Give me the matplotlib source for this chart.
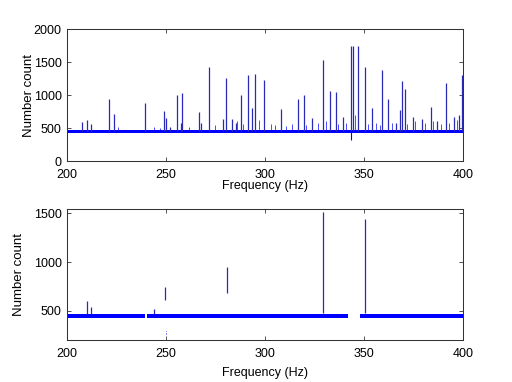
import matplotlib
matplotlib.use('Agg')
import matplotlib.pyplot as plt

plt.rcParams['font.family'] = ['Liberation Sans', 'DejaVu Sans']
plt.rcParams['font.size'] = 9

# --- top panel: baseline band and spectral peaks ---
top_base_start = [200]
top_base_end = [400]
top_base_low = [430]
top_base_high = [478]

top_peak_freq = [207.9, 210.1, 212.1, 221.5, 223.9, 239.4, 249.3, 250.0, 252.0,
                 255.9, 257.7, 258.4, 266.7, 268.0, 271.9, 278.8, 280.5, 283.5,
                 285.5, 287.9, 291.6, 293.8, 295.3, 299.7, 308.2, 316.6, 319.8,
                 324.0, 329.4, 332.8, 335.8, 339.5, 343.4, 344.5, 347.1, 350.5,
                 354.4, 359.4, 362.1, 366.1, 368.1, 369.1, 370.6, 374.8, 379.2,
                 383.7, 387.1, 391.4, 395.3, 398.0, 399.7]
top_peak_top = [591, 620, 555, 940, 707, 884, 763, 650, 520,
                1000, 575, 1025, 737, 570, 1430, 640, 1262, 630,
                570, 1000, 1308, 800, 1318, 1237, 793, 934, 1000,
                646, 1530, 1066, 1045, 670, 1747, 1747, 1747, 1430,
                800, 1388, 934, 570, 780, 1212, 1096, 670, 640,
                813, 611, 1187, 670, 697, 1303]

# small spikes just above the baseline
small_freq = [226, 244, 247, 262, 275, 286, 289, 297, 303, 305, 311, 314, 321,
              327, 331, 337, 341, 345.5, 352, 356, 358, 364, 372, 376, 381,
              385, 389, 393, 397]
small_top = [510, 515, 505, 520, 545, 600, 560, 620, 560, 540, 530, 560, 545,
             570, 600, 560, 580, 700, 560, 570, 550, 580, 560, 600, 580,
             600, 560, 580, 620]

dip_freq = [343.6]
dip_low = [318]

# --- bottom panel ---
bot_base_start = [200, 240.8, 348.0]
bot_base_end = [239.6, 342.0, 400]
bot_base_low = [422, 422, 422]
bot_base_high = [462, 462, 466]

bot_peak_freq = [210.1, 212.3, 244.1, 249.5, 280.8, 329.4, 350.5]
bot_peak_low = [460, 460, 460, 610, 678, 470, 470]
bot_peak_top = [603, 534, 517, 747, 949, 1517, 1438]
bot_dot_freq = [250.2]
bot_dot_low = [255]
bot_dot_high = [290]

base_color = '#0000ff'
peak_color = '#2a2ab8'
spine_color = '#333333'

fig = plt.figure(figsize=(5.12, 3.82), dpi=100)
ax1 = fig.add_axes([0.130, 0.5785, 0.774, 0.345])
ax2 = fig.add_axes([0.130, 0.1107, 0.774, 0.342])

for s, e, lo, hi in zip(top_base_start, top_base_end, top_base_low, top_base_high):
    ax1.fill_between([s, e], lo, hi, color=base_color, lw=0)
ax1.vlines(small_freq, 450, small_top, color=base_color, lw=0.7, alpha=0.7)
ax1.vlines(top_peak_freq, 450, top_peak_top, color=peak_color, lw=0.9)
ax1.vlines(dip_freq, dip_low, 450, color=base_color, lw=0.8)

for s, e, lo, hi in zip(bot_base_start, bot_base_end, bot_base_low, bot_base_high):
    ax2.fill_between([s, e], lo, hi, color=base_color, lw=0)
ax2.vlines(bot_peak_freq, bot_peak_low, bot_peak_top, color=peak_color, lw=0.9)
ax2.vlines(bot_dot_freq, bot_dot_low, bot_dot_high, color=base_color, lw=0.7,
           linestyles=':')

ax1.set_xlim(200, 400)
ax1.set_ylim(0, 2000)
ax1.set_yticks([0, 500, 1000, 1500, 2000])
ax2.set_xlim(200, 400)
ax2.set_ylim(200, 1545)
ax2.set_yticks([500, 1000, 1500])

for ax in (ax1, ax2):
    ax.set_xticks([200, 250, 300, 350, 400])
    ax.tick_params(direction='in', length=3, width=0.6, top=True, right=True,
                   labelsize=9, color=spine_color)
    ax.tick_params(axis='x', pad=6)
    ax.tick_params(axis='y', pad=3.5)
    for sp in ax.spines.values():
        sp.set_linewidth(0.75)
        sp.set_color(spine_color)
    ax.set_xlabel('Frequency (Hz)', fontsize=9)
    ax.set_ylabel('Number count', fontsize=9.5)

ax1.xaxis.set_label_coords(0.5, -0.145)
ax1.yaxis.set_label_coords(-0.080, 0.5)
ax2.xaxis.set_label_coords(0.5, -0.212)
ax2.yaxis.set_label_coords(-0.105, 0.5)

fig.savefig('out.png', dpi=100)
